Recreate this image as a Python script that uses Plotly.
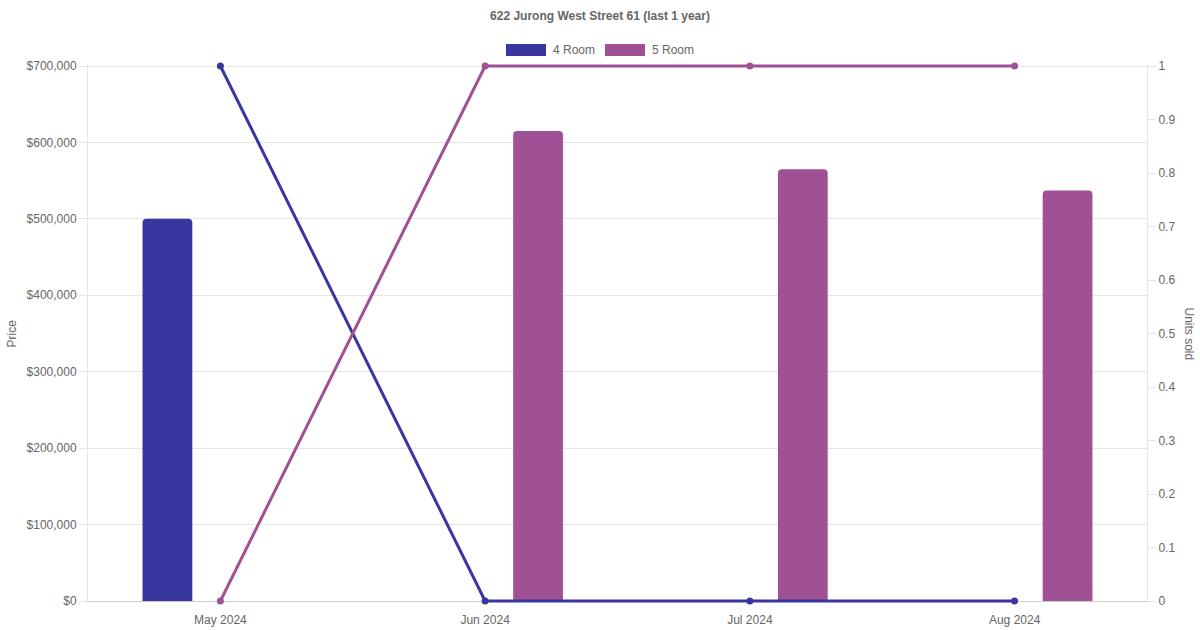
import plotly.graph_objects as go

# data
months = ["May 2024", "Jun 2024", "Jul 2024", "Aug 2024"]
price_4room = [500000, None, None, None]
price_5room = [None, 615000, 565000, 537000]
units_4room = [1, 0, 0, 0]
units_5room = [0, 1, 1, 1]
price_ticks = [0, 100000, 200000, 300000, 400000, 500000, 600000, 700000]
unit_ticks = [0, 0.1, 0.2, 0.3, 0.4, 0.5, 0.6, 0.7, 0.8, 0.9, 1]

c4 = "#3a36a0"
c5 = "#a05195"
grid = "#e5e5e5"
txt = "#666666"
font = "Liberation Sans, Arial, sans-serif"

# plot box in pixels (chart.js look), padded a little so lines on 0 / 1 aren't clipped
left, right, top, bottom = 88, 1147, 66, 601
pad = 2
h = bottom - top
pmax = 700000
pad_price = pad * pmax / h
pad_units = pad / h

fig = go.Figure()

fig.add_trace(go.Bar(x=months, y=price_4room, name="4 Room", marker_color=c4,
                     marker_line_width=0, yaxis="y"))
fig.add_trace(go.Bar(x=months, y=price_5room, name="5 Room", marker_color=c5,
                     marker_line_width=0, yaxis="y"))

fig.add_trace(go.Scatter(x=months, y=units_4room, name="4 Room", mode="lines+markers",
                         line=dict(color=c4, width=3), marker=dict(size=7, color=c4),
                         yaxis="y2", cliponaxis=False, showlegend=False))
fig.add_trace(go.Scatter(x=months, y=units_5room, name="5 Room", mode="lines+markers",
                         line=dict(color=c5, width=3), marker=dict(size=7, color=c5),
                         yaxis="y2", cliponaxis=False, showlegend=False))

fig.update_layout(
    template="none",
    width=1200, height=630,
    margin=dict(l=left, r=1200 - right, t=top - pad, b=630 - bottom - pad),
    paper_bgcolor="white", plot_bgcolor="white",
    font=dict(family=font, size=12, color=txt),
    barmode="group", bargap=0.2, bargroupgap=0.53, barcornerradius=4,
    showlegend=False,
    title=dict(text="<b>622 Jurong West Street 61 (last 1 year)</b>", x=0.5, xanchor="center",
               y=1 - 16 / 630, yanchor="middle", font=dict(size=12, color=txt)),
    xaxis=dict(type="category", showgrid=False, showline=False,
               ticks="", tickfont=dict(size=12, color=txt), ticklabelstandoff=8),
    yaxis=dict(range=[-pad_price, pmax + pad_price], tickvals=price_ticks,
               ticktext=[f"${v:,}" for v in price_ticks],
               gridcolor=grid, gridwidth=1, showline=True, linecolor=grid, ticks="outside",
               tickcolor=grid, ticklen=8, zeroline=True, zerolinecolor="#cccccc",
               zerolinewidth=1, tickfont=dict(size=12, color=txt)),
    yaxis2=dict(range=[-pad_units, 1 + pad_units], tickvals=unit_ticks,
                ticktext=[f"{v:g}" for v in unit_ticks],
                overlaying="y", side="right",
                showgrid=False, showline=True, linecolor=grid, ticks="outside",
                tickcolor=grid, ticklen=8, zeroline=False, tickfont=dict(size=12, color=txt)),
)

pw = right - left
ph = h + 2 * pad


def px_x(v):
    return (v - left) / pw


def px_y(v):
    return (bottom + pad - v) / ph


# axis titles (right one reads top to bottom)
fig.add_annotation(text="Price", xref="paper", yref="paper", x=px_x(11),
                   y=0.5, showarrow=False, textangle=-90, xanchor="center", yanchor="middle")
fig.add_annotation(text="Units sold", xref="paper", yref="paper", x=px_x(1189),
                   y=0.5, showarrow=False, textangle=90, xanchor="center", yanchor="middle")

# legend drawn as boxes, chart.js style
legend_items = [("4 Room", c4, 506), ("5 Room", c5, 605)]
for label, col, lx in legend_items:
    fig.add_shape(type="rect", xref="paper", yref="paper",
                  x0=px_x(lx), x1=px_x(lx + 40), y0=px_y(56), y1=px_y(44),
                  fillcolor=col, line=dict(width=0))
    fig.add_annotation(text=label, xref="paper", yref="paper", x=px_x(lx + 45),
                       y=px_y(50), showarrow=False, xanchor="left", yanchor="middle",
                       font=dict(size=12, color=txt))

fig.write_html("out.html", config={"displayModeBar": False},
               post_script="document.body.style.margin='0';")
